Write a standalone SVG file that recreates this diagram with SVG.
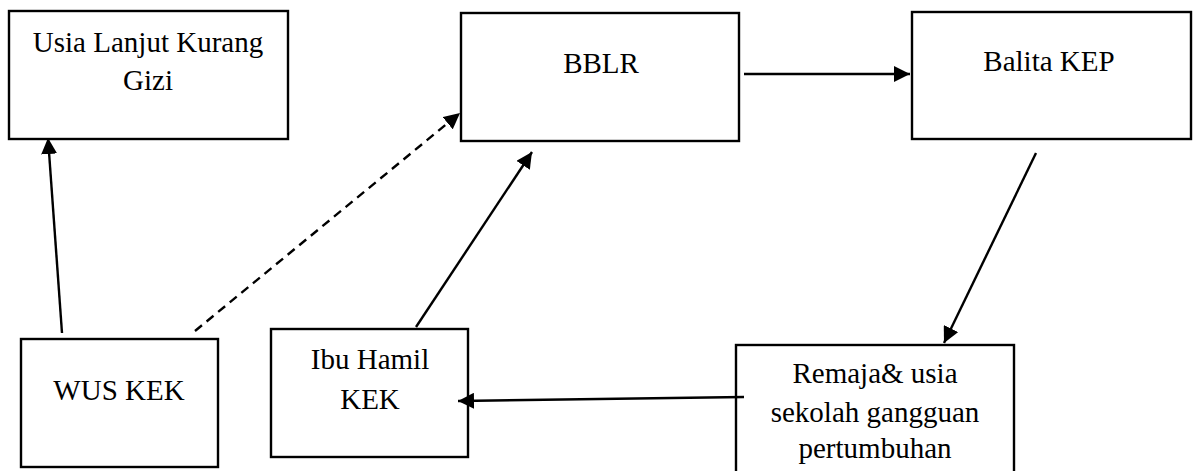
<svg xmlns="http://www.w3.org/2000/svg" width="1198" height="471" viewBox="0 0 1198 471">
<style>
.box{fill:#fff;stroke:#000;stroke-width:2.4}
.lbl{font-family:"Liberation Serif","Times New Roman",serif;font-size:29px;fill:#000;text-anchor:middle}
.c{fill:none;stroke:#000;stroke-width:2.4}
.d{stroke-dasharray:9 6}
</style>
<defs>
<marker id="ah" markerUnits="userSpaceOnUse" markerWidth="18" markerHeight="16" refX="16" refY="8" orient="auto">
<path d="M0,0 L16,8 L0,16 Z" fill="#000"/>
</marker>
</defs>
<rect width="1198" height="471" fill="#fff"/>
<g id="usia">
<rect class="box" x="9" y="11" width="279" height="128"/>
<text class="lbl" x="148" y="52">Usia Lanjut Kurang</text>
<text class="lbl" x="148" y="90">Gizi</text>
</g>
<g id="bblr">
<rect class="box" x="461" y="13" width="278" height="128"/>
<text class="lbl" x="601" y="73">BBLR</text>
</g>
<g id="balita">
<rect class="box" x="912" y="12" width="279" height="127"/>
<text class="lbl" x="1049" y="71">Balita KEP</text>
</g>
<g id="wus">
<rect class="box" x="21" y="339" width="197" height="128"/>
<text class="lbl" x="119" y="400">WUS KEK</text>
</g>
<g id="ibu">
<rect class="box" x="271" y="329" width="197" height="128"/>
<text class="lbl" x="370" y="369">Ibu Hamil</text>
<text class="lbl" x="370" y="409">KEK</text>
</g>
<g id="remaja">
<rect class="box" x="736" y="345" width="278" height="140"/>
<text class="lbl" x="875" y="383">Remaja&amp; usia</text>
<text class="lbl" x="875" y="422">sekolah gangguan</text>
<text class="lbl" x="875" y="458">pertumbuhan</text>
</g>
<g id="connectors">
<line class="c" x1="744" y1="74" x2="910" y2="74" marker-end="url(#ah)"/>
<line class="c" x1="1036" y1="153" x2="944" y2="343" marker-end="url(#ah)"/>
<line class="c" x1="744" y1="397" x2="458" y2="401" marker-end="url(#ah)"/>
<line class="c" x1="416" y1="327" x2="532" y2="152" marker-end="url(#ah)"/>
<line class="c" x1="62" y1="333" x2="48" y2="138" marker-end="url(#ah)"/>
<line class="c d" x1="195" y1="331" x2="460" y2="113" marker-end="url(#ah)"/>
</g>
</svg>
